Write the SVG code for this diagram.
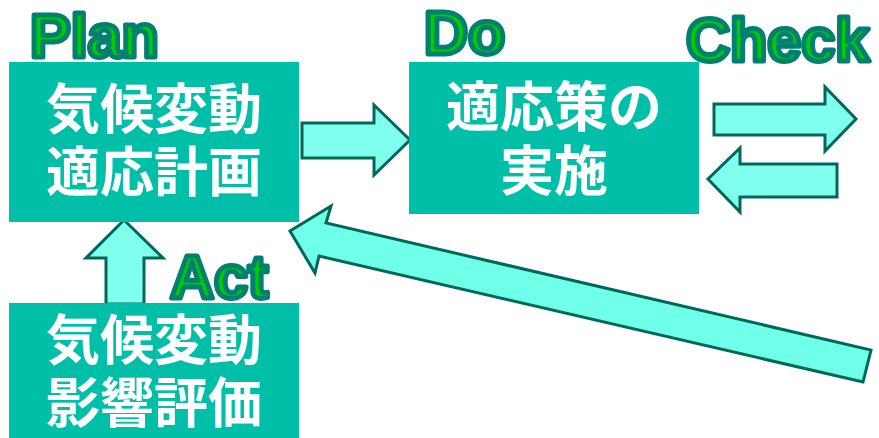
<svg xmlns="http://www.w3.org/2000/svg" width="879" height="438" viewBox="0 0 879 438">
<style>
.box{fill:#00BFA8}
.jt{font-family:"Noto Sans CJK JP","Noto Sans CJK SC",sans-serif;font-weight:700;font-size:54px;fill:#FFFFFF;text-anchor:middle}
.lbl{font-family:"Liberation Sans",Arial,sans-serif;font-weight:700;font-size:61px;fill:#00CC00;stroke:#008070;stroke-width:5;stroke-linejoin:round}
.arr{fill:#80FFEE;stroke:#006858;stroke-width:3;stroke-linejoin:miter}
.arr2{fill:#70FFE8;stroke:#006858;stroke-width:3;stroke-linejoin:miter}
</style>
<rect width="879" height="438" fill="#FFFFFF"/>
<g id="connectors">
<polygon class="arr" points="302,123 374,123 374,105 410,140 374,175 374,158 302,158"/>
<polygon class="arr" points="714,104 825,104 825,87 856,119 825,151 825,135 714,135"/>
<polygon class="arr" points="837,164 740,164 740,148 708,179 740,212 740,197 837,197"/>
<polygon class="arr" points="124,220 163,258 144,258 144,304 106,304 106,258 86,258"/>
<polygon class="arr2" points="290,231 331,206 326,223 871,350 863,382 319,256 315,273"/>
</g>
<g id="plan">
<rect class="box" x="9" y="62" width="290" height="160"/>
<text class="jt" x="154" y="129">気候変動</text>
<text class="jt" x="154" y="192">適応計画</text>
</g>
<g id="do">
<rect class="box" x="409" y="62" width="290" height="152"/>
<text class="jt" x="554" y="127">適応策の</text>
<text class="jt" x="554" y="191">実施</text>
</g>
<g id="act">
<rect class="box" x="9" y="303" width="290" height="135"/>
<text class="jt" x="154" y="360">気候変動</text>
<text class="jt" x="154" y="423">影響評価</text>
</g>
<g id="labels">
<text class="lbl" x="30" y="57">Plan</text>
<text class="lbl" x="424" y="54">Do</text>
<text class="lbl" x="686" y="61">Check</text>
<text class="lbl" x="170" y="298">Act</text>
</g>
</svg>
